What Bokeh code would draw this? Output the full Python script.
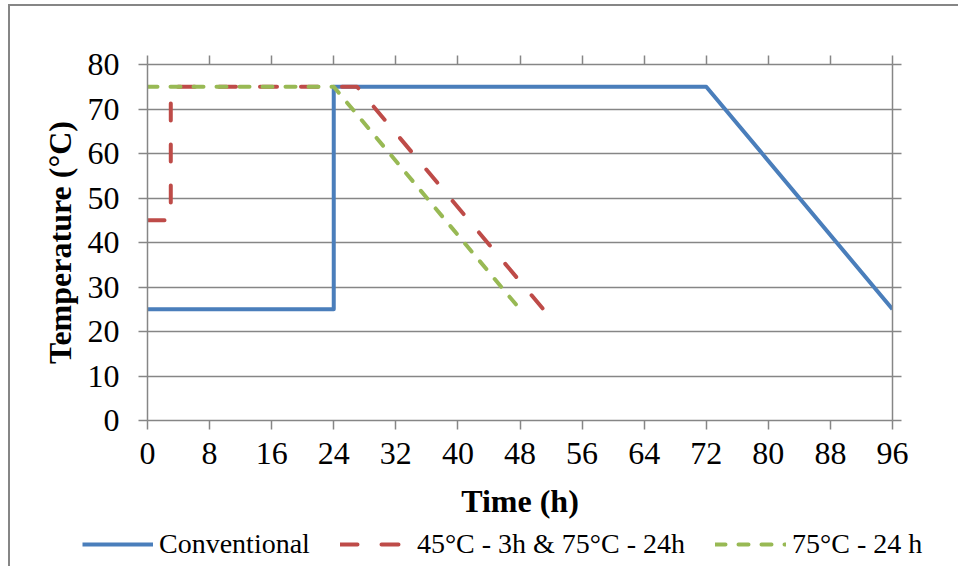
from bokeh.plotting import figure
from bokeh.models import Range1d, LinearAxis, FixedTicker, Legend, LegendItem
from bokeh.layouts import column, row
from bokeh.embed import file_html
from bokeh.resources import INLINE

# ---- data ----
conv_x = [0, 24, 24, 72, 96]
conv_y = [25, 25, 75, 75, 25]
red_x = [0, 3, 3, 27, 51]
red_y = [45, 45, 75, 75, 25]
green_x = [0, 24, 48]
green_y = [75, 75, 25]
x_ticks = [0, 8, 16, 24, 32, 40, 48, 56, 64, 72, 80, 88, 96]
y_ticks = [0, 10, 20, 30, 40, 50, 60, 70, 80]
names = ["Conventional", "45°C - 3h & 75°C - 24h", "75°C - 24 h"]

FONT = "Liberation Serif"
GRAY = "#868686"
BLUE = "#4A7EBB"
RED = "#BE4B48"
GREEN = "#98B954"
STYLES = [dict(line_color=BLUE, line_width=4, line_join="round"),
          dict(line_color=RED, line_width=4, line_dash="17 24", line_cap="round", line_join="round"),
          dict(line_color=GREEN, line_width=4, line_dash="10 13", line_cap="round", line_join="round")]
SERIES = [(conv_x, conv_y), (red_x, red_y), (green_x, green_y)]

p = figure(frame_width=745, frame_height=356,
           min_border_left=137, min_border_right=66,
           min_border_top=58, min_border_bottom=151,
           x_range=Range1d(0, 96), y_range=Range1d(0, 80),
           output_backend="svg", toolbar_location=None,
           x_axis_label="Time (h)", y_axis_label="Temperature (°C)")
p.outline_line_color = None
p.background_fill_color = "white"
p.border_fill_color = "white"

p.xgrid.visible = False
p.ygrid.ticker = FixedTicker(ticks=y_ticks)
p.ygrid.grid_line_color = GRAY
p.ygrid.grid_line_width = 1.5

def style_axis(ax, ticks, labels=True):
    ax.ticker = FixedTicker(ticks=ticks)
    ax.axis_line_color = GRAY
    ax.axis_line_width = 1.5
    ax.major_tick_line_color = GRAY
    ax.major_tick_line_width = 1.5
    ax.major_tick_in = 0
    ax.major_tick_out = 9
    ax.minor_tick_line_color = None
    ax.major_label_text_font = FONT
    ax.major_label_text_font_size = "32px"
    ax.major_label_text_color = "black"
    ax.axis_label_text_font = FONT
    ax.axis_label_text_font_size = "32px"
    ax.axis_label_text_font_style = "bold"
    ax.axis_label_text_color = "black"
    if not labels:
        ax.major_label_text_font_size = "0px"
        ax.major_label_standoff = 0

style_axis(p.xaxis[0], x_ticks)
style_axis(p.yaxis[0], y_ticks)
p.xaxis[0].major_label_standoff = 13
p.xaxis[0].axis_label_standoff = 16
p.yaxis[0].major_label_standoff = 19
p.yaxis[0].axis_label_standoff = 7

top = LinearAxis()
style_axis(top, x_ticks, labels=False)
p.add_layout(top, "above")
right = LinearAxis()
style_axis(right, y_ticks, labels=False)
p.add_layout(right, "right")

for (xs, ys), st in zip(SERIES, STYLES):
    p.line(xs, ys, **st)

# legend strip (overlaps the blank bottom of the main figure);
# its proxy lines use the same series but lie outside its (empty) view range
leg = figure(width=948, height=40, min_border=0,
             x_range=Range1d(0, 1), y_range=Range1d(-1000, -999),
             output_backend="svg", toolbar_location=None)
leg.axis.visible = False
leg.grid.visible = False
leg.outline_line_color = None
leg.background_fill_alpha = 0
leg.border_fill_alpha = 0

items = []
for nm, (xs, ys), st in zip(names, SERIES, STYLES):
    r = leg.line(xs, ys, **st)
    items.append(LegendItem(label=nm, renderers=[r]))

legend = Legend(items=items, orientation="horizontal", location=(72, 6),
                glyph_width=71, glyph_height=20, label_standoff=6, spacing=30,
                padding=0, margin=0, border_line_color=None,
                background_fill_alpha=0,
                label_text_font=FONT, label_text_font_size="28px",
                label_text_color="black")
leg.add_layout(legend, "center")

leg_row = row(leg, styles={"margin-top": "-45px"})
layout = column(p, leg_row, spacing=0,
                styles={"margin-left": "8px", "margin-top": "4px",
                        "border-left": "2px solid #868686",
                        "border-top": "2px solid #868686"})

open("out.html", "w").write(file_html(layout, INLINE))
